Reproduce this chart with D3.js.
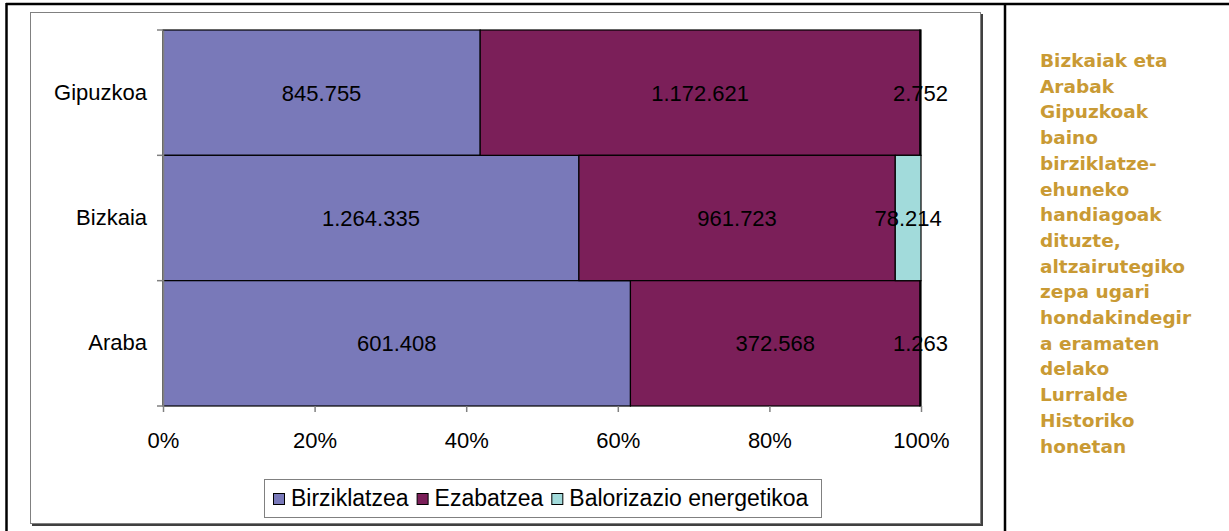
<!DOCTYPE html>
<html lang="eu">
<head>
<meta charset="UTF-8">
<title>Zepa kudeaketa lurraldeka</title>
<script src="https://cdn.jsdelivr.net/npm/d3@7"></script>
<style>
  body { margin: 0; background: #fff; }
  svg { display: block; }
</style>
</head>
<body>
<script>
// data
var regions = ["Gipuzkoa", "Bizkaia", "Araba"];
var seriesNames = ["Birziklatzea", "Ezabatzea", "Balorizazio energetikoa"];
var birziklatzea = [845755, 1264335, 601408];
var ezabatzea = [1172621, 961723, 372568];
var balorizazioa = [2752, 78214, 1263];
var xTicks = [0, 0.2, 0.4, 0.6, 0.8, 1];
var noteLines = ["Bizkaiak eta", "Arabak", "Gipuzkoak", "baino", "birziklatze-",
  "ehuneko", "handiagoak", "dituzte,", "altzairutegiko", "zepa ugari",
  "hondakindegir", "a eramaten", "delako", "Lurralde", "Historiko", "honetan"];

var colors = ["#7979b9", "#7b1f59", "#a2dbdb"];

var W = 1229, H = 531;
var svg = d3.select("body").append("svg").attr("width", W).attr("height", H);

// outer frame + divider
svg.append("line").attr("x1", 6).attr("x2", W).attr("y1", 4).attr("y2", 4)
  .attr("stroke", "#000").attr("stroke-width", 2.5);
svg.append("line").attr("x1", 6.5).attr("x2", 6.5).attr("y1", 3).attr("y2", H)
  .attr("stroke", "#000").attr("stroke-width", 2.5);
svg.append("line").attr("x1", 1005).attr("x2", 1005).attr("y1", 3).attr("y2", H)
  .attr("stroke", "#000").attr("stroke-width", 2.5);

// chart area box with shadow
svg.append("rect").attr("x", 32).attr("y", 14).attr("width", 951).attr("height", 512)
  .attr("fill", "#404040");
svg.append("rect").attr("x", 30.5).attr("y", 12.5).attr("width", 950).attr("height", 511)
  .attr("fill", "#fff").attr("stroke", "#808080");

// build rows
var rows = regions.map(function(r, i) {
  return { region: r, s0: birziklatzea[i], s1: ezabatzea[i], s2: balorizazioa[i] };
});
var keys = ["s0", "s1", "s2"];
var stack = d3.stack().keys(keys).offset(d3.stackOffsetExpand);
var layers = stack(rows);

var x = d3.scaleLinear().domain([0, 1]).range([163, 921]);
var y = d3.scaleBand().domain(regions).range([30, 406]).padding(0);

var font = "'Liberation Sans', Arial, sans-serif";
var fs = "22px";
var fmt = function(v) { return d3.format(",")(v).replace(/,/g, "."); };

var layerG = svg.selectAll(".layer").data(layers).enter().append("g")
  .attr("fill", function(d, i) { return colors[i]; });

layerG.selectAll("rect").data(function(d) { return d; }).enter().append("rect")
  .attr("x", function(d) { return x(d[0]); })
  .attr("y", function(d) { return y(d.data.region); })
  .attr("width", function(d) { return x(d[1]) - x(d[0]); })
  .attr("height", y.bandwidth())
  .attr("stroke", "#000").attr("stroke-width", 1.2);

// value labels
layers.forEach(function(layer) {
  svg.append("g").selectAll("text").data(layer).enter().append("text")
    .attr("x", function(d) { return (x(d[0]) + x(d[1])) / 2; })
    .attr("y", function(d) { return y(d.data.region) + y.bandwidth() / 2; })
    .attr("dy", "0.36em")
    .attr("text-anchor", "middle")
    .style("font-family", font).style("font-size", fs).attr("fill", "#000")
    .text(function(d) { return fmt(d.data[layer.key]); });
});

// axes
var yAxis = svg.append("g").attr("transform", "translate(163,0)")
  .call(d3.axisLeft(y).tickSize(0).tickPadding(16));
yAxis.select(".domain").attr("stroke", "#808080").attr("stroke-width", 1.5);
yAxis.selectAll("text").style("font-family", font).style("font-size", fs).attr("fill", "#000");
// band boundary ticks
yAxis.selectAll(".bt").data(regions.concat(["end"])).enter().append("line")
  .attr("x1", -6).attr("x2", 0)
  .attr("y1", function(d, i) { return i < regions.length ? y(d) : y.range()[1]; })
  .attr("y2", function(d, i) { return i < regions.length ? y(d) : y.range()[1]; })
  .attr("stroke", "#808080").attr("stroke-width", 1.5);

var xAxis = svg.append("g").attr("transform", "translate(0,406)")
  .call(d3.axisBottom(x).tickValues(xTicks).tickFormat(d3.format(".0%")).tickSize(6).tickPadding(20));
xAxis.select(".domain").remove();
xAxis.selectAll("line").attr("stroke", "#808080").attr("stroke-width", 1.5);
xAxis.selectAll("text").style("font-family", font).style("font-size", fs).attr("fill", "#000");

// legend
var lg = svg.append("g");
lg.append("rect").attr("x", 264.5).attr("y", 479.5).attr("width", 557).attr("height", 38)
  .attr("fill", "#fff").attr("stroke", "#808080");
var lx = 273;
seriesNames.forEach(function(name, i) {
  lg.append("rect").attr("x", lx + 0.5).attr("y", 493.5).attr("width", 11).attr("height", 11)
    .attr("fill", colors[i]).attr("stroke", "#000");
  var t = lg.append("text").attr("x", lx + 18).attr("y", 506)
    .style("font-family", font).style("font-size", "23px").text(name);
  lx += 18 + t.node().getComputedTextLength() + 8;
});

// side note
svg.append("g").selectAll("text").data(noteLines).enter().append("text")
  .attr("x", 1040)
  .attr("y", function(d, i) { return 67 + i * 25.7; })
  .style("font-family", "'DejaVu Sans', Verdana, sans-serif")
  .style("font-weight", "bold").style("font-size", "18.5px")
  .attr("fill", "#c99a34")
  .text(function(d) { return d; });
</script>
</body>
</html>
